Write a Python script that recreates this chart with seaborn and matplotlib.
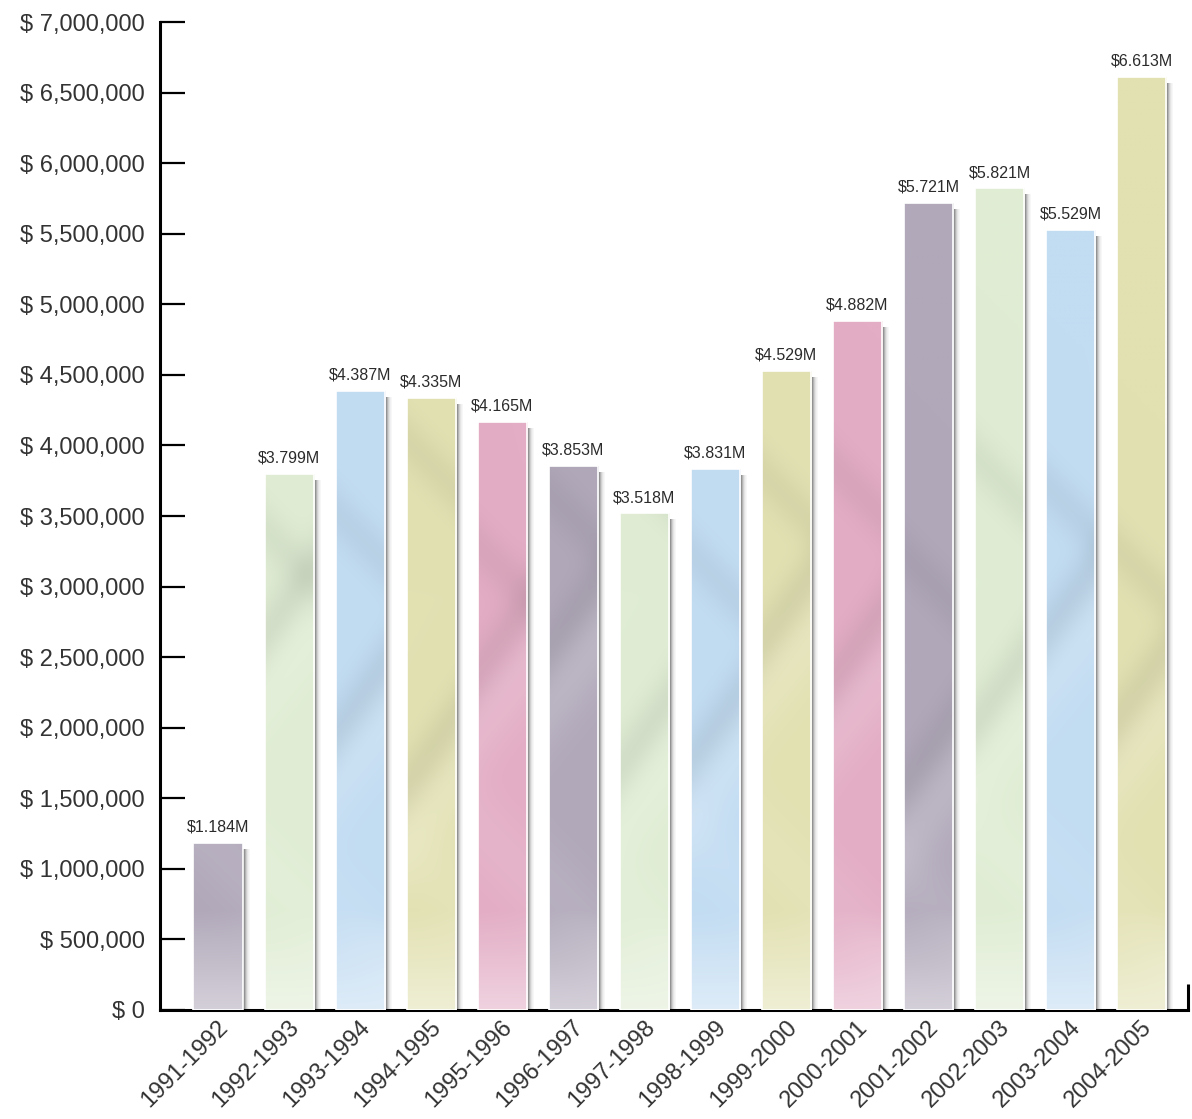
import numpy as np
import pandas as pd
import matplotlib
matplotlib.use("Agg")
import matplotlib.pyplot as plt
import seaborn as sns
from matplotlib.colors import to_rgb
from matplotlib.ticker import FuncFormatter, FixedLocator
from matplotlib.transforms import ScaledTranslation

# Annual revenue by season
seasons = ["1991-1992", "1992-1993", "1993-1994", "1994-1995", "1995-1996",
           "1996-1997", "1997-1998", "1998-1999", "1999-2000", "2000-2001",
           "2001-2002", "2002-2003", "2003-2004", "2004-2005"]
revenue = [1184000, 3799000, 4387000, 4335000, 4165000, 3853000, 3518000,
           3831000, 4529000, 4882000, 5721000, 5821000, 5529000, 6613000]
value_labels = ["$1.184M", "$3.799M", "$4.387M", "$4.335M", "$4.165M",
                "$3.853M", "$3.518M", "$3.831M", "$4.529M", "$4.882M",
                "$5.721M", "$5.821M", "$5.529M", "$6.613M"]
y_ticks = [0, 500000, 1000000, 1500000, 2000000, 2500000, 3000000, 3500000,
           4000000, 4500000, 5000000, 5500000, 6000000, 6500000, 7000000]
color_cycle = ["#B1A9BA", "#E0EDD4", "#C2DCF2", "#E2E1B2", "#E3ADC5"]

sns.set_theme(style="white")
plt.rcParams["font.family"] = ["Liberation Sans", "DejaVu Sans"]

W, H = 1192, 1119
fig = plt.figure(figsize=(W / 100, H / 100), dpi=100)
ax = fig.add_axes([160 / W, 109 / H, 1028 / W, 988 / H])

df = pd.DataFrame({"season": seasons, "revenue": revenue})
bar_colors = [color_cycle[i % len(color_cycle)] for i in range(len(seasons))]
bar_width = 0.69
xpos = np.arange(len(seasons))
px = 1 / 71.1  # one pixel in category units
ypx = 7000000 / 988  # one pixel in value units

sns.barplot(data=df, x="season", y="revenue", hue="season", palette=bar_colors,
            legend=False, width=bar_width, saturation=1, linewidth=0,
            ax=ax, zorder=2)
bars = [p for c in ax.containers for p in c.patches]

# soft drop shadow on the right side of each bar
shadow_top = np.array(revenue) - 6 * ypx
for k, a in enumerate([0.75, 0.6, 0.42, 0.26, 0.15, 0.08, 0.04]):
    ax.bar(xpos + bar_width / 2 + (k + 0.5) * px, shadow_top, width=px,
           color="#4a4a4a", alpha=a, linewidth=0, zorder=1)

# silky shading inside each bar
t = np.linspace(0, 1, 400)
xs = np.linspace(0, 1, 40)
for i, (p, col) in enumerate(zip(bars, bar_colors)):
    x0, y0 = p.get_x(), p.get_y()
    w, h = p.get_width(), p.get_height()
    base = np.array(to_rgb(col))
    rel = (y0 + t * h) / 7000000
    R, X = np.meshgrid(rel, xs, indexing="ij")
    light = np.clip((0.1 - R) / 0.1, 0, 1) * 0.45
    ph = 1.7 * i
    c1 = 0.30 + 0.08 * np.sin(ph)
    c2 = 0.52 + 0.06 * np.cos(ph * 1.3)
    band = (0.07 * np.exp(-((R - c1 - 0.07 * X) / 0.035) ** 2)
            + 0.05 * np.exp(-((R - c2 + 0.05 * X) / 0.03) ** 2))
    sheen = (0.14 * np.exp(-((R - c1 + 0.05 - 0.06 * X) / 0.05) ** 2)
             + 0.08 * np.exp(-((R - 0.15 - 0.04 * np.cos(ph) + 0.05 * X) / 0.05) ** 2))
    img = base[None, None, :] * (1 - band[..., None])
    img = img + (1 - img) * np.clip(light + sheen, 0, 1)[..., None]
    img = np.clip(img, 0, 1)
    im = ax.imshow(img, extent=(x0, x0 + w, y0, y0 + h), origin="lower",
                   aspect="auto", zorder=3, interpolation="bilinear")
    im.set_clip_path(p)

# thin white rim on each bar
ax.bar(xpos, revenue, width=bar_width, fill=False, edgecolor="white",
       linewidth=1.2, zorder=4)

for i, (v, lab) in enumerate(zip(revenue, value_labels)):
    ax.annotate(lab, (i, v), xytext=(0, 6), textcoords="offset points",
                ha="center", va="bottom", fontsize=11.5, color="#2b2b2b",
                family=["Liberation Sans Narrow", "Liberation Sans"], zorder=5)

ax.set_xlim(-0.816, 13.65)
ax.set_ylim(0, 7000000)
ax.yaxis.set_major_locator(FixedLocator(y_ticks))
ax.yaxis.set_major_formatter(FuncFormatter(lambda v, _: "$ {:,.0f}".format(v)))
ax.set_xlabel("")
ax.set_ylabel("")

for side in ["top", "right"]:
    ax.spines[side].set_visible(False)
for side in ["left", "bottom"]:
    ax.spines[side].set_visible(True)
    ax.spines[side].set_color("black")
    ax.spines[side].set_linewidth(2.2)

ax.tick_params(axis="y", direction="in", length=18, width=1.6, color="black",
               left=True, pad=11, labelsize=17, labelcolor="#333333")
ax.tick_params(axis="x", length=0, pad=10, labelsize=17, labelcolor="#333333")
shift = ScaledTranslation(7 / 100, 0, fig.dpi_scale_trans)
for lab in ax.get_xticklabels():
    lab.set_rotation(45)
    lab.set_ha("right")
    lab.set_va("center")
    lab.set_rotation_mode("anchor")
    lab.set_transform(lab.get_transform() + shift)

# short closing mark at the right end of the baseline
ax.plot([1, 1], [0, 0.026], transform=ax.transAxes, color="black",
        linewidth=2.2, clip_on=False, solid_capstyle="butt")

fig.savefig("out.png", dpi=100, facecolor="white")
